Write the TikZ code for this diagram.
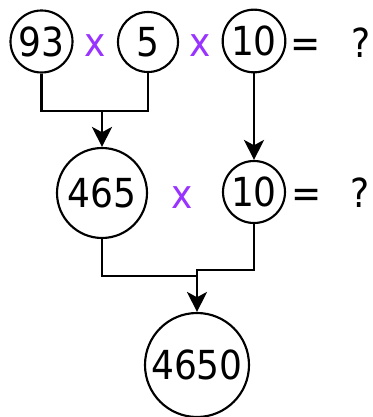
\documentclass[tikz,border=0pt]{standalone}
\usepackage{fontspec}
\setmainfont{DejaVu Sans Condensed}
\usetikzlibrary{arrows.meta}
\definecolor{opcol}{RGB}{153,51,255}
\begin{document}
\begin{tikzpicture}[x=0.75pt,y=-0.75pt,
  num/.style={circle,draw,line width=1.6pt,inner sep=0pt,font=\fontsize{30}{34}\selectfont},
  optext/.style={inner sep=0pt,text=opcol,font=\fontsize{30}{34}\selectfont},
  eqtext/.style={inner sep=0pt,font=\fontsize{30}{34}\selectfont},
  conn/.style={line width=1.8pt},
  arr/.style={line width=1.8pt,-{Stealth[length=15pt,width=15pt,inset=4pt]}}]
\useasboundingbox (0,0) rectangle (372,417);
% top row
\node[num,minimum size=46.5pt] (n93) at (41.5,41.5) {93};
\node[optext] (x1) at (95,46) {x};
\node[num,minimum size=45pt] (n5) at (148,42) {5};
\node[optext] (x2) at (200,46) {x};
\node[num,minimum size=47pt] (n10a) at (254,41) {10};
\node[eqtext] (eq1) at (306,48) {=};
\node[eqtext] (q1) at (361,43) {?};
% middle row
\node[num,minimum size=67.5pt] (n465) at (102,193) {465};
\node[optext] (x3) at (182,198) {x};
\node[num,minimum size=46.5pt] (n10b) at (254,192) {10};
\node[eqtext] (eq2) at (307,198) {=};
\node[eqtext] (q2) at (360,193) {?};
% bottom
\node[num,minimum size=78pt] (n4650) at (197,365) {4650};
% connectors
\coordinate (j1) at (102,111);
\coordinate (j2) at (197,270);
\draw[conn] (n93.south) |- (j1) -| (n5.south);
\draw[arr] (j1) -- (n465.north);
\draw[arr] (n10a.south) -- (n10b.north);
\draw[conn] (n465.south) |- (197,276) -- (j2) -| (n10b.south);
\draw[arr] (j2) -- (n4650.north);
\end{tikzpicture}
\end{document}
